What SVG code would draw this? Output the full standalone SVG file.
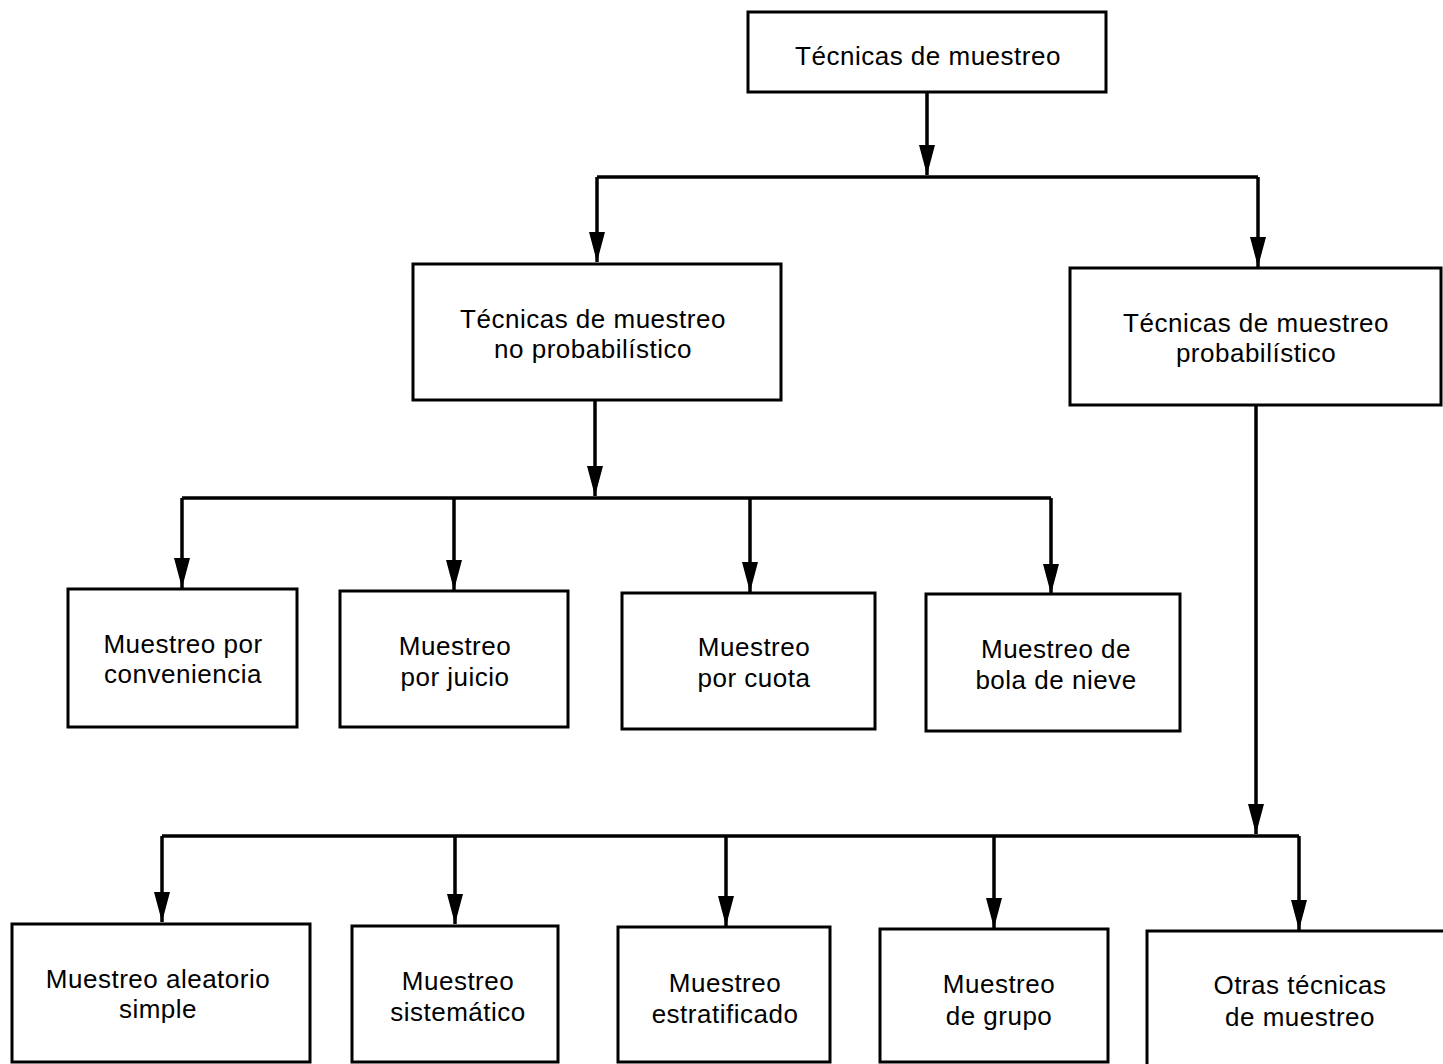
<svg xmlns="http://www.w3.org/2000/svg" width="1443" height="1064" viewBox="0 0 1443 1064">
<style>
.box{fill:#fff;stroke:#000;stroke-width:3}
.t{font-family:"Liberation Sans",Arial,sans-serif;font-size:26px;letter-spacing:0.5px;fill:#000;text-anchor:middle}
.c{fill:none;stroke:#000;stroke-width:3.5}
</style>
<defs>
<marker id="ah" viewBox="0 0 30 16" refX="30" refY="8" markerWidth="30" markerHeight="16" markerUnits="userSpaceOnUse" orient="auto">
<path d="M0,0 L30,8 L0,16 z" fill="#000"/>
</marker>
</defs>
<rect width="1443" height="1064" fill="#fff"/>
<g id="connectors">
<path class="c" d="M927,92 V175" marker-end="url(#ah)"/>
<path class="c" d="M597,177 H1258"/>
<path class="c" d="M597,177 V262" marker-end="url(#ah)"/>
<path class="c" d="M1258,177 V267" marker-end="url(#ah)"/>
<path class="c" d="M595,400 V496" marker-end="url(#ah)"/>
<path class="c" d="M182,498 H1051"/>
<path class="c" d="M182,498 V588" marker-end="url(#ah)"/>
<path class="c" d="M454,498 V590" marker-end="url(#ah)"/>
<path class="c" d="M750,498 V592" marker-end="url(#ah)"/>
<path class="c" d="M1051,498 V594" marker-end="url(#ah)"/>
<path class="c" d="M1256,405 V834" marker-end="url(#ah)"/>
<path class="c" d="M162,836 H1299"/>
<path class="c" d="M162,836 V922" marker-end="url(#ah)"/>
<path class="c" d="M455,836 V924" marker-end="url(#ah)"/>
<path class="c" d="M726,836 V926" marker-end="url(#ah)"/>
<path class="c" d="M994,836 V928" marker-end="url(#ah)"/>
<path class="c" d="M1299,836 V930" marker-end="url(#ah)"/>
</g>
<g id="root"><rect class="box" x="748" y="12" width="358" height="80"/><text class="t" x="928" y="65">Técnicas de muestreo</text></g>
<g id="noprob"><rect class="box" x="413" y="264" width="368" height="136"/><text class="t" x="593" y="328">Técnicas de muestreo</text><text class="t" x="593" y="358">no probabilístico</text></g>
<g id="prob"><rect class="box" x="1070" y="268" width="371" height="137"/><text class="t" x="1256" y="332">Técnicas de muestreo</text><text class="t" x="1256" y="362">probabilístico</text></g>
<g id="conveniencia"><rect class="box" x="68" y="589" width="229" height="138"/><text class="t" x="183" y="653">Muestreo por</text><text class="t" x="183" y="683">conveniencia</text></g>
<g id="juicio"><rect class="box" x="340" y="591" width="228" height="136"/><text class="t" x="455" y="655">Muestreo</text><text class="t" x="455" y="686">por juicio</text></g>
<g id="cuota"><rect class="box" x="622" y="593" width="253" height="136"/><text class="t" x="754" y="656">Muestreo</text><text class="t" x="754" y="687">por cuota</text></g>
<g id="bola"><rect class="box" x="926" y="594" width="254" height="137"/><text class="t" x="1056" y="658">Muestreo de</text><text class="t" x="1056" y="689">bola de nieve</text></g>
<g id="aleatorio"><rect class="box" x="12" y="924" width="298" height="138"/><text class="t" x="158" y="988">Muestreo aleatorio</text><text class="t" x="158" y="1018">simple</text></g>
<g id="sistematico"><rect class="box" x="352" y="926" width="206" height="136"/><text class="t" x="458" y="990">Muestreo</text><text class="t" x="458" y="1021">sistemático</text></g>
<g id="estratificado"><rect class="box" x="618" y="927" width="212" height="135"/><text class="t" x="725" y="992">Muestreo</text><text class="t" x="725" y="1023">estratificado</text></g>
<g id="grupo"><rect class="box" x="880" y="929" width="228" height="133"/><text class="t" x="999" y="993">Muestreo</text><text class="t" x="999" y="1025">de grupo</text></g>
<g id="otras"><rect class="box" x="1147" y="931" width="310" height="140"/><text class="t" x="1300" y="994">Otras técnicas</text><text class="t" x="1300" y="1026">de muestreo</text></g>
</svg>
